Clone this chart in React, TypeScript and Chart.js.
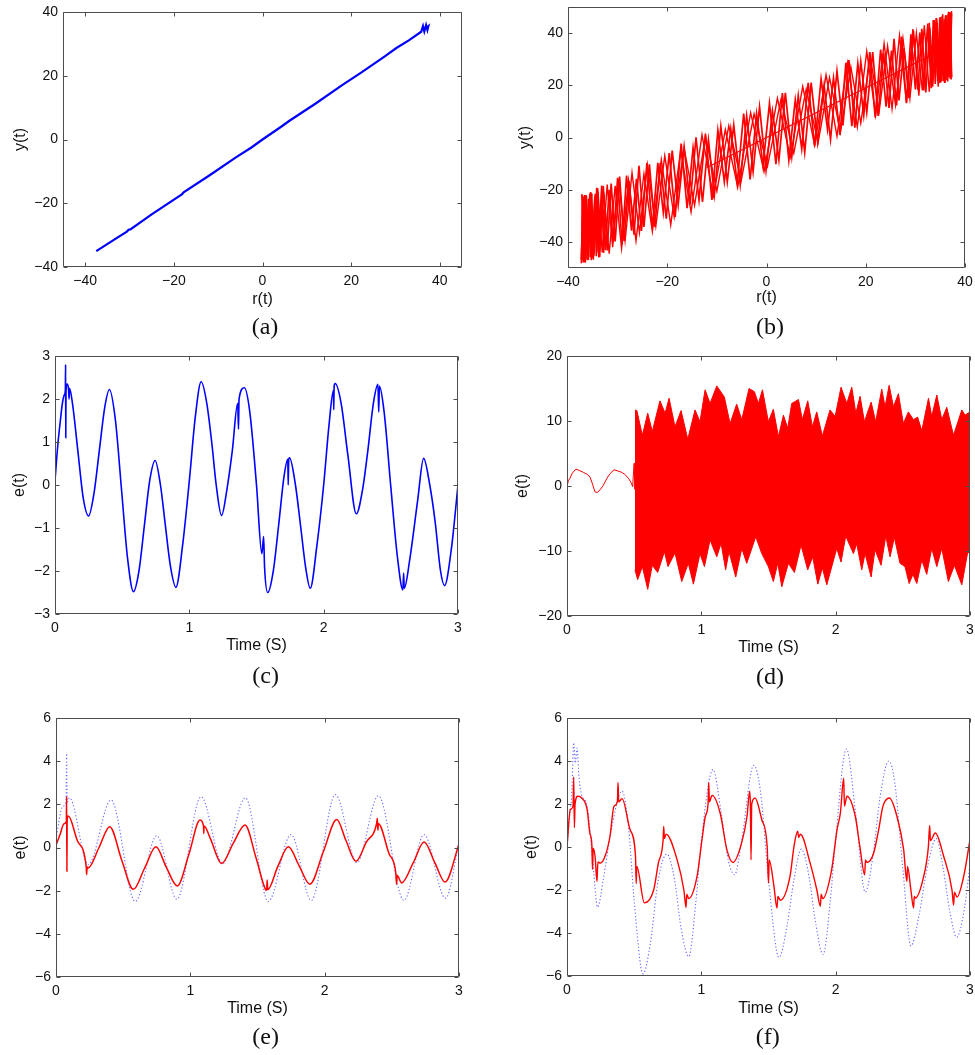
import React, { useEffect, useRef } from 'react';
import { Chart, registerables } from 'chart.js';
Chart.register(...registerables);

// ---------- tick labels ----------
const ticksRange40 = [-40, -20, 0, 20, 40];
const ticksTime = [0, 1, 2, 3];
const ticksC = [-3, -2, -1, 0, 1, 2, 3];
const ticksD = [-20, -10, 0, 10, 20];
const ticksEF = [-6, -4, -2, 0, 2, 4, 6];

// ---------- (a) r(t) vs y(t) ----------
const aR = [-37.5, -33, -30.6, -30.2, -29.8, -25, -18.2, -17.8, -12, -6, -2.5, 0, 4.2, 6, 12, 17.8, 22.5, 27.5, 30.2, 33, 35.8, 36.2, 36.5, 36.9, 37.2, 37.4, 36.8, 37.3];
const aY = [-35, -31.0, -28.9, -28.3, -28.2, -23.5, -17.2, -16.6, -11.3, -5.6, -2.5, 0, 4.0, 5.8, 11.3, 16.9, 21.2, 26.0, 28.7, 31.1, 33.8, 35.6, 33.9, 35.9, 34.4, 35.5, 34.8, 35.2];

// ---------- (b) r(t) vs y(t), zigzag passes ----------
const bR1 = [-37.2, -36.9, -36.5, -36.1, -35.6, -35.1, -34.5, -33.9, -33.2, -32.5, -31.7, -30.9, -30.0, -29.1, -28.2, -27.2, -26.2, -25.2, -24.1, -23.0, -21.9, -20.8, -19.6, -18.4, -17.2, -16.0, -14.8, -13.6, -12.3, -11.0, -9.8, -8.5, -7.2, -5.9, -4.6, -3.3, -2.0, -0.7, 0.6, 1.9, 3.2, 4.5, 5.8, 7.1, 8.4, 9.7, 11.0, 12.3, 13.5, 14.8, 16.0, 17.2, 18.4, 19.6, 20.8, 21.9, 23.0, 24.1, 25.2, 26.2, 27.2, 28.2, 29.1, 30.0, 30.9, 31.7, 32.5, 33.2, 33.9, 34.5, 35.1, 35.6, 36.1, 36.5, 36.9, 37.2];
const bY1 = [-21.7, -47.9, -22.0, -46.6, -21.6, -46.2, -21.6, -44.0, -18.4, -43.2, -20.0, -40.2, -15.4, -41.0, -14.6, -35.7, -15.8, -35.8, -9.8, -34.7, -9.7, -28.7, -6.0, -30.4, -2.3, -27.1, -4.0, -23.9, 1.4, -23.9, 2.7, -17.0, 3.2, -17.6, 9.2, -16.1, 9.1, -10.7, 13.1, -10.2, 17.0, -8.7, 14.5, -4.3, 20.9, -3.3, 22.4, 3.1, 22.8, 1.0, 28.6, 4.3, 28.4, 8.5, 32.7, 7.7, 33.7, 11.8, 33.3, 12.3, 38.7, 13.1, 39.5, 18.4, 40.2, 18.0, 43.7, 18.9, 44.0, 21.6, 46.2, 21.6, 46.6, 21.5, 47.9, 22.2];
const bR2 = [37.3, 37.0, 36.7, 36.3, 35.9, 35.4, 34.8, 34.2, 33.6, 32.9, 32.1, 31.3, 30.5, 29.6, 28.7, 27.7, 26.7, 25.7, 24.7, 23.6, 22.5, 21.4, 20.2, 19.0, 17.8, 16.6, 15.4, 14.2, 12.9, 11.6, 10.3, 9.0, 7.7, 6.4, 5.1, 3.8, 2.5, 1.2, -0.1, -1.4, -2.7, -4.0, -5.3, -6.6, -7.9, -9.2, -10.5, -11.7, -12.9, -14.2, -15.4, -16.6, -17.8, -19.0, -20.2, -21.4, -22.5, -23.6, -24.7, -25.7, -26.7, -27.7, -28.7, -29.6, -30.5, -31.3, -32.1, -32.9, -33.6, -34.2, -34.8, -35.4, -35.9, -36.3, -36.7, -37.0, -37.3];
const bY2 = [23.2, 48.0, 23.2, 46.8, 20.9, 43.5, 20.9, 45.8, 22.8, 42.1, 17.3, 41.6, 18.3, 41.0, 15.1, 34.2, 14.2, 37.8, 11.3, 32.3, 8.3, 32.7, 9.6, 29.0, 3.8, 29.7, 4.6, 25.4, -0.8, 20.0, -1.8, 21.0, -5.7, 16.0, -7.2, 17.1, -8.6, 10.1, -12.6, 11.7, -13.1, 8.2, -18.0, 4.8, -17.0, 4.3, -21.9, -1.1, -24.7, 0.1, -25.6, -3.7, -25.8, -5.0, -31.1, -9.7, -34.3, -10.3, -34.3, -10.8, -37.2, -16.7, -39.6, -15.0, -39.8, -17.6, -43.3, -18.6, -43.3, -19.3, -44.9, -21.0, -46.9, -22.3, -47.7, -22.5, -48.2];
const bR3 = [-37.3, -37.0, -36.5, -35.9, -35.3, -34.6, -33.8, -32.8, -31.7, -30.5, -29.2, -27.8, -26.3, -24.7, -23.0, -21.2, -19.3, -17.3, -15.2, -13.0, -10.7, -8.3, -5.8, -3.2, -0.5, 2.2, 4.8, 7.3, 9.7, 12.0, 14.2, 16.3, 18.3, 20.2, 22.0, 23.7, 25.3, 26.8, 28.2, 29.5, 30.7, 31.8, 32.8, 33.8, 34.6, 35.4, 36.0, 36.6, 37.0, 37.3];
const bY3 = [-47.0, -23.0, -48.0, -23.5, -47.0, -22.5, -46.0, -21.0, -44.5, -18.5, -42.5, -16.5, -39.5, -14.0, -36.0, -8.5, -33.5, -5.0, -28.5, 1.0, -22.5, 3.0, -19.0, 9.5, -13.0, 15.0, -7.5, 19.5, -3.0, 24.0, 0.5, 28.5, 4.0, 33.0, 8.5, 36.0, 11.0, 39.0, 13.5, 41.5, 16.0, 43.0, 17.5, 45.0, 19.5, 46.5, 21.0, 47.5, 22.5, 48.5];
const bR4 = [37.3, 36.9, 36.4, 35.8, 35.1, 34.4, 33.5, 32.5, 31.4, 30.2, 28.9, 27.5, 26.0, 24.4, 22.7, 20.9, 19.0, 17.0, 14.9, 12.7, 10.4, 8.0, 5.5, 2.9, 0.2, -2.5, -5.1, -7.6, -10.0, -12.3, -14.5, -16.6, -18.6, -20.5, -22.3, -24.0, -25.6, -27.1, -28.5, -29.8, -31.0, -32.1, -33.1, -34.0, -34.8, -35.5, -36.1, -36.7, -37.1];
const bY4 = [23.0, 46.0, 22.0, 45.5, 21.0, 44.0, 19.5, 42.5, 18.0, 40.0, 15.0, 38.0, 12.5, 35.0, 10.0, 31.0, 5.5, 27.0, 2.0, 23.0, -2.0, 18.5, -6.0, 14.5, -11.0, 9.0, -16.5, 4.5, -20.5, 0.5, -26.0, -4.0, -30.5, -7.0, -34.0, -10.5, -36.5, -13.5, -39.5, -16.0, -42.0, -18.0, -44.0, -19.5, -45.5, -21.0, -46.5, -22.0, -47.0];
const bR5 = [-37.3, -37.0, -36.7, -36.4, -36.1, -35.8, -35.5, -35.2, -34.9, -34.6, -34.3, -34.0, -33.6, -33.2, -32.8];
const bY5 = [-46.5, -23.0, -47.8, -22.0, -47.0, -23.5, -46.0, -21.5, -46.8, -22.8, -45.5, -20.8, -45.8, -21.0, -44.2];
const bR6 = [37.3, 37.0, 36.7, 36.4, 36.1, 35.8, 35.5, 35.2, 34.9, 34.6, 34.3, 34.0, 33.6, 33.2, 32.8];
const bY6 = [47.5, 23.0, 48.2, 22.0, 46.8, 23.5, 47.2, 21.5, 46.0, 22.8, 45.5, 20.5, 45.0, 21.0, 44.0];
const bMidR = [-12, -5, 0, 8, 16, 24, 30, 36.5];
const bMidY = [-11.5, -4.8, 0, 7.6, 15.2, 22.8, 28.5, 34.5];

// ---------- (c) e(t) ----------
const cT = [0, 0.02, 0.04, 0.055, 0.07, 0.077, 0.079, 0.08, 0.082, 0.09, 0.1, 0.105, 0.108, 0.13, 0.17, 0.21, 0.25, 0.29, 0.33, 0.37, 0.405, 0.45, 0.495, 0.54, 0.584, 0.625, 0.665, 0.705, 0.745, 0.785, 0.82, 0.86, 0.9, 0.95, 1.0, 1.045, 1.088, 1.13, 1.17, 1.2, 1.24, 1.28, 1.32, 1.36, 1.366, 1.37, 1.41, 1.45, 1.5, 1.54, 1.553, 1.56, 1.584, 1.625, 1.665, 1.705, 1.733, 1.736, 1.74, 1.746, 1.79, 1.83, 1.865, 1.9, 1.95, 2.0, 2.04, 2.073, 2.075, 2.078, 2.086, 2.13, 2.18, 2.243, 2.29, 2.33, 2.37, 2.404, 2.41, 2.415, 2.45, 2.5, 2.55, 2.59, 2.595, 2.6, 2.64, 2.7, 2.744, 2.79, 2.83, 2.87, 2.9, 2.95, 3.0];
const cE = [0.1, 0.9, 1.5, 1.9, 2.1, 2.2, 2.8, 1.1, 2.2, 2.35, 2.25, 2.0, 2.25, 1.9, 0.8, -0.3, -0.72, -0.2, 0.8, 1.8, 2.22, 1.5, -0.1, -1.7, -2.48, -2.0, -0.95, 0.1, 0.57, 0.0, -0.9, -1.9, -2.38, -1.4, 0.1, 1.6, 2.4, 1.9, 0.9, 0.0, -0.71, -0.1, 0.8, 1.9, 1.3, 2.0, 2.26, 1.7, 0.0, -1.6, -1.2, -1.9, -2.5, -2.0, -0.93, 0.2, 0.6, 0.0, 0.6, 0.63, 0.0, -1.0, -1.9, -2.4, -1.4, 0.0, 1.4, 2.2, 1.75, 2.3, 2.36, 1.9, 0.7, -0.67, -0.1, 0.83, 1.9, 2.34, 1.7, 2.3, 1.7, -0.05, -1.7, -2.44, -2.05, -2.4, -1.75, -0.35, 0.62, 0.0, -0.86, -2.0, -2.34, -1.5, 0.0];

// ---------- (d) e(t) ----------
const dEarlyT = [0, 0.01, 0.022, 0.04, 0.067, 0.09, 0.122, 0.15, 0.171, 0.19, 0.208, 0.225, 0.246, 0.27, 0.295, 0.32, 0.35, 0.38, 0.407, 0.43, 0.457, 0.475, 0.489, 0.495, 0.5, 0.506];
const dEarlyE = [-0.1, 0.8, 1.2, 2.0, 2.6, 2.4, 2.1, 1.8, 1.4, 0.3, -0.9, -1.0, -0.6, 0.1, 1.1, 1.9, 2.5, 2.3, 2.1, 1.8, 1.2, 0.6, -0.1, 2.0, 3.5, -0.5];
const dUpT = [0.506, 0.52, 0.561, 0.601, 0.635, 0.692, 0.73, 0.76, 0.804, 0.849, 0.899, 0.953, 0.99, 1.028, 1.065, 1.115, 1.171, 1.214, 1.263, 1.301, 1.355, 1.395, 1.425, 1.455, 1.499, 1.536, 1.574, 1.611, 1.643, 1.673, 1.723, 1.752, 1.792, 1.827, 1.859, 1.901, 1.958, 1.996, 2.04, 2.083, 2.12, 2.15, 2.182, 2.214, 2.264, 2.298, 2.343, 2.368, 2.398, 2.43, 2.467, 2.504, 2.541, 2.579, 2.61, 2.641, 2.691, 2.715, 2.753, 2.79, 2.827, 2.877, 2.939, 2.963, 3.0];
const dUp = [11.7, 11.6, 7.8, 11.2, 8.4, 13.1, 11.2, 13.5, 9.1, 11.6, 7.2, 11.7, 9.9, 14.8, 12.7, 15.4, 13.7, 9.6, 12.6, 10.2, 15.0, 14.5, 12.7, 14.8, 9.9, 11.8, 7.6, 10.9, 8.9, 12.7, 13.3, 10.2, 13.1, 9.1, 11.4, 7.7, 11.7, 10.7, 15.2, 12.7, 15.2, 11.2, 13.8, 9.9, 12.9, 9.9, 14.9, 12.2, 15.5, 12.2, 14.2, 9.6, 11.4, 10.2, 10.6, 8.5, 13.5, 10.7, 14.0, 10.2, 12.1, 7.8, 11.7, 10.9, 11.4];
const dLoT = [0.506, 0.526, 0.561, 0.601, 0.635, 0.675, 0.725, 0.752, 0.804, 0.854, 0.903, 0.941, 0.99, 1.023, 1.065, 1.115, 1.147, 1.181, 1.206, 1.256, 1.301, 1.338, 1.405, 1.45, 1.499, 1.536, 1.569, 1.599, 1.648, 1.693, 1.742, 1.792, 1.829, 1.867, 1.901, 1.934, 2.008, 2.04, 2.075, 2.132, 2.157, 2.194, 2.219, 2.264, 2.293, 2.338, 2.373, 2.405, 2.437, 2.479, 2.516, 2.547, 2.575, 2.604, 2.641, 2.678, 2.715, 2.753, 2.79, 2.839, 2.884, 2.939, 2.984, 3.0];
const dLo = [-12.9, -14.4, -12.4, -15.9, -12.2, -13.3, -10.1, -12.4, -10.3, -14.7, -11.9, -15.1, -10.4, -12.4, -8.3, -10.9, -8.8, -12.9, -10.1, -14.0, -9.6, -11.9, -7.8, -10.4, -12.4, -14.7, -11.9, -15.5, -11.9, -13.3, -9.1, -12.9, -10.9, -15.1, -12.6, -15.2, -9.6, -11.7, -7.7, -10.4, -8.9, -12.9, -10.4, -14.0, -9.8, -12.2, -7.7, -10.9, -7.9, -11.9, -12.4, -15.0, -13.6, -15.0, -11.4, -13.6, -9.6, -12.4, -9.6, -14.7, -12.2, -15.2, -10.1, -10.5];

// ---------- (e) e(t) ----------
const eBlueT = [0, 0.05, 0.075, 0.079, 0.083, 0.1, 0.24, 0.41, 0.59, 0.75, 0.9, 1.08, 1.24, 1.41, 1.58, 1.75, 1.9, 2.08, 2.24, 2.4, 2.59, 2.74, 2.9, 3.0];
const eBlueE = [0.4, 1.9, 2.2, 4.35, 2.1, 2.3, -0.8, 2.2, -2.5, 0.55, -2.4, 2.35, -0.75, 2.3, -2.5, 0.6, -2.45, 2.45, -0.7, 2.4, -2.45, 0.6, -2.35, 0.2];
const eRedT = [0, 0.03, 0.06, 0.077, 0.079, 0.081, 0.083, 0.092, 0.16, 0.225, 0.228, 0.232, 0.24, 0.32, 0.4, 0.49, 0.576, 0.66, 0.744, 0.82, 0.903, 0.99, 1.072, 1.098, 1.1, 1.102, 1.15, 1.233, 1.32, 1.407, 1.49, 1.56, 1.568, 1.572, 1.576, 1.65, 1.73, 1.81, 1.89, 1.99, 2.09, 2.16, 2.233, 2.31, 2.387, 2.392, 2.396, 2.4, 2.48, 2.53, 2.535, 2.54, 2.573, 2.66, 2.74, 2.82, 2.896, 3.0];
const eRedE = [0.1, 0.6, 1.1, 1.2, 2.36, -1.1, 1.3, 1.46, 0.3, -0.9, -1.25, -0.9, -0.95, 0.0, 0.96, -0.6, -1.94, -0.95, 0.03, -0.9, -1.78, -0.3, 1.27, 1.0, 0.65, 1.0, 0.4, -0.74, 0.2, 1.04, -0.5, -1.95, -1.98, -1.5, -1.95, -0.9, 0.03, -0.85, -1.7, -0.2, 1.3, 0.3, -0.64, 0.25, 1.12, 1.35, 0.8, 1.1, -0.3, -1.2, -1.7, -1.3, -1.64, -0.7, 0.25, -0.7, -1.6, 0.15];

// ---------- (f) e(t) ----------
const fBlueT = [0, 0.02, 0.035, 0.05, 0.062, 0.075, 0.09, 0.11, 0.15, 0.19, 0.228, 0.27, 0.33, 0.41, 0.46, 0.5, 0.566, 0.62, 0.68, 0.744, 0.8, 0.85, 0.906, 0.96, 1.0, 1.087, 1.15, 1.2, 1.248, 1.3, 1.39, 1.44, 1.5, 1.578, 1.64, 1.69, 1.744, 1.8, 1.85, 1.906, 1.96, 2.0, 2.08, 2.15, 2.22, 2.28, 2.33, 2.395, 2.44, 2.5, 2.56, 2.62, 2.68, 2.75, 2.8, 2.85, 2.9, 2.96, 3.0];
const fBlueE = [0.0, 1.5, 2.4, 4.85, 3.9, 4.6, 3.2, 2.4, 1.9, -0.5, -2.8, -1.5, 0.8, 2.6, 0.8, -2.5, -5.9, -4.5, -1.5, -0.33, -1.5, -3.8, -5.1, -2.5, 0.3, 3.6, 1.5, -0.6, -1.29, 0.3, 3.8, 2.6, -1.5, -5.14, -3.6, -1.5, -0.1, -1.3, -3.5, -5.0, -2.5, 0.4, 4.56, 1.5, -2.1, -0.3, 2.3, 4.0, 3.0, -1.0, -4.6, -3.2, -1.0, 0.39, -1.0, -3.0, -4.2, -2.8, -0.8];
const fRedT = [0, 0.025, 0.045, 0.05, 0.055, 0.06, 0.08, 0.11, 0.15, 0.17, 0.185, 0.19, 0.195, 0.21, 0.223, 0.23, 0.248, 0.285, 0.32, 0.35, 0.375, 0.38, 0.385, 0.41, 0.47, 0.51, 0.515, 0.52, 0.576, 0.645, 0.68, 0.715, 0.72, 0.725, 0.737, 0.82, 0.87, 0.886, 0.892, 0.906, 0.968, 1.005, 1.03, 1.05, 1.055, 1.06, 1.08, 1.14, 1.19, 1.236, 1.3, 1.34, 1.36, 1.365, 1.37, 1.375, 1.4, 1.45, 1.49, 1.5, 1.505, 1.54, 1.563, 1.57, 1.588, 1.66, 1.69, 1.717, 1.725, 1.737, 1.81, 1.86, 1.886, 1.892, 1.903, 1.97, 2.01, 2.035, 2.06, 2.065, 2.084, 2.146, 2.18, 2.216, 2.222, 2.233, 2.283, 2.32, 2.352, 2.4, 2.456, 2.506, 2.53, 2.535, 2.56, 2.58, 2.585, 2.593, 2.655, 2.69, 2.7, 2.705, 2.742, 2.804, 2.866, 2.878, 2.884, 2.903, 2.953, 3.0];
const fRedE = [0, 1.74, 1.9, 3.26, 0.9, 2.0, 2.36, 2.28, 1.74, 0.65, 0.1, -1.05, -0.05, -0.5, -1.6, -0.7, -0.75, -0.4, 0.5, 1.9, 2.1, 3.0, 2.1, 2.25, 0.8, -0.43, -1.7, -0.9, -2.6, -2.0, -0.75, 0.3, 0.96, 0.4, 0.6, -0.6, -2.0, -2.8, -2.2, -2.4, -1.37, 0.34, 1.43, 2.0, 3.0, 2.1, 2.4, 1.58, -0.12, -0.72, 0.19, 1.43, 2.6, 2.0, -0.6, 2.0, 2.28, 1.27, 0.03, -1.68, -0.6, -1.8, -2.84, -2.3, -2.48, -1.37, 0.03, 0.73, 0.45, 0.6, -0.75, -2.0, -2.76, -2.2, -2.4, -1.06, 0.8, 1.58, 3.2, 1.9, 2.36, 1.43, 0.03, -1.29, -0.6, -0.72, -0.28, 0.8, 1.9, 2.28, 1.43, -0.12, -1.6, -0.9, -2.0, -2.84, -2.3, -2.38, -1.37, 0.0, 1.0, 0.3, 0.65, -0.43, -2.0, -2.7, -2.1, -2.33, -1.37, 0.34];

// ---------- helpers ----------
const SANS = '"Liberation Sans", Arial, Helvetica, sans-serif';
const SERIF = '"Liberation Serif", "Times New Roman", serif';
const BLUE = '#0000ff';
const RED = '#ff0000';
const fmt = (v: number) => (v < 0 ? '\u2212' + Math.abs(v) : String(v));
const zip = (xs: number[], ys: number[]) => xs.map((x, i) => ({ x, y: ys[i] }));

const framePlugin = {
  id: 'matlabFrame',
  afterDatasetsDraw(chart: any) {
    const { ctx, chartArea } = chart;
    const l = Math.round(chartArea.left) + 0.5;
    const r = Math.round(chartArea.right) - 0.5;
    const t = Math.round(chartArea.top) + 0.5;
    const b = Math.round(chartArea.bottom) - 0.5;
    const len = 4;
    ctx.save();
    ctx.strokeStyle = '#4d4d4d';
    ctx.lineWidth = 1;
    ctx.beginPath();
    ctx.rect(l, t, r - l, b - t);
    const xs = chart.scales.x;
    const ys = chart.scales.y;
    xs.ticks.forEach((tk: any) => {
      const px = Math.round(xs.getPixelForValue(tk.value)) + 0.5;
      ctx.moveTo(px, b);
      ctx.lineTo(px, b - len);
      ctx.moveTo(px, t);
      ctx.lineTo(px, t + len);
    });
    ys.ticks.forEach((tk: any) => {
      const py = Math.round(ys.getPixelForValue(tk.value)) + 0.5;
      ctx.moveTo(l, py);
      ctx.lineTo(l + len, py);
      ctx.moveTo(r, py);
      ctx.lineTo(r - len, py);
    });
    ctx.stroke();
    ctx.restore();
  },
};

type Spec = {
  left: number; top: number; width: number; height: number;
  padTop: number; padRight: number; yW: number; xH: number;
  xMin: number; xMax: number; yMin: number; yMax: number;
  xTicks: number[]; yTicks: number[];
  xTitle: string; yTitle: string; xTitlePad: number; yTitlePad: number;
  datasets: any[];
};

const line = (xs: number[], ys: number[], color: string, width: number, extra: any = {}) => ({
  data: zip(xs, ys),
  borderColor: color,
  backgroundColor: color,
  borderWidth: width,
  pointRadius: 0,
  fill: false,
  tension: 0,
  ...extra,
});

const specs: Spec[] = [
  {
    left: 0, top: 0, width: 475, height: 315, padTop: 12, padRight: 13, yW: 63, xH: 48,
    xMin: -45, xMax: 45, yMin: -40, yMax: 40, xTicks: ticksRange40, yTicks: ticksRange40,
    xTitle: 'r(t)', yTitle: 'y(t)', xTitlePad: 6.2, yTitlePad: 10.5,
    datasets: [line(aR, aY, BLUE, 2.2)],
  },
  {
    left: 490, top: 0, width: 485, height: 315, padTop: 7, padRight: 10, yW: 78, xH: 47,
    xMin: -40, xMax: 40, yMin: -50, yMax: 50, xTicks: ticksRange40, yTicks: ticksRange40,
    xTitle: 'r(t)', yTitle: 'y(t)', xTitlePad: 7.8, yTitlePad: 25.5,
    datasets: [
      line(bR1, bY1, RED, 1.7), line(bR2, bY2, RED, 1.7), line(bR3, bY3, RED, 1.4),
      line(bR4, bY4, RED, 1.4), line(bR5, bY5, RED, 1.6), line(bR6, bY6, RED, 1.6),
      line(bMidR, bMidY, RED, 1.2),
    ],
  },
  {
    left: 0, top: 330, width: 475, height: 335, padTop: 26, padRight: 17, yW: 55, xH: 51,
    xMin: 0, xMax: 3, yMin: -3, yMax: 3, xTicks: ticksTime, yTicks: ticksC,
    xTitle: 'Time (S)', yTitle: 'e(t)', xTitlePad: 9.8, yTitlePad: 9.5,
    datasets: [line(cT, cE, BLUE, 1.6, { cubicInterpolationMode: 'monotone' })],
  },
  {
    left: 490, top: 330, width: 485, height: 335, padTop: 26, padRight: 5, yW: 77, xH: 49,
    xMin: 0, xMax: 3, yMin: -20, yMax: 20, xTicks: ticksTime, yTicks: ticksD,
    xTitle: 'Time (S)', yTitle: 'e(t)', xTitlePad: 8.2, yTitlePad: 22.8,
    datasets: [
      line(dEarlyT, dEarlyE, RED, 1),
      line(dUpT, dUp, RED, 1, { fill: '+1' }),
      line(dLoT, dLo, RED, 1),
    ],
  },
  {
    left: 0, top: 690, width: 475, height: 335, padTop: 28, padRight: 16, yW: 56, xH: 48,
    xMin: 0, xMax: 3, yMin: -6, yMax: 6, xTicks: ticksTime, yTicks: ticksEF,
    xTitle: 'Time (S)', yTitle: 'e(t)', xTitlePad: 7.2, yTitlePad: 11.2,
    datasets: [
      line(eRedT, eRedE, RED, 1.5, { cubicInterpolationMode: 'monotone', order: 0 }),
      line(eBlueT, eBlueE, 'rgba(50,50,255,0.75)', 1.1, { cubicInterpolationMode: 'monotone', borderDash: [1.2, 2.2], order: 1 }),
    ],
  },
  {
    left: 490, top: 690, width: 485, height: 335, padTop: 28, padRight: 5, yW: 77, xH: 49,
    xMin: 0, xMax: 3, yMin: -6, yMax: 6, xTicks: ticksTime, yTicks: ticksEF,
    xTitle: 'Time (S)', yTitle: 'e(t)', xTitlePad: 7.2, yTitlePad: 32.2,
    datasets: [
      line(fRedT, fRedE, RED, 1.4, { cubicInterpolationMode: 'monotone', order: 0 }),
      line(fBlueT, fBlueE, 'rgba(50,50,255,0.75)', 1.1, { cubicInterpolationMode: 'monotone', borderDash: [1.2, 2.2], order: 1 }),
    ],
  },
];

const panelLetters = [
  { text: '(a)', cx: 265, cy: 328.3 },
  { text: '(b)', cx: 770, cy: 328 },
  { text: '(c)', cx: 265.7, cy: 677.3 },
  { text: '(d)', cx: 770, cy: 678 },
  { text: '(e)', cx: 265.7, cy: 1038.3 },
  { text: '(f)', cx: 767.7, cy: 1038.3 },
];

function Panel({ spec }: { spec: Spec }) {
  const ref = useRef<HTMLCanvasElement>(null);
  useEffect(() => {
    if (!ref.current) return;
    const tickFont = { family: SANS, size: 14 };
    const titleFont = { family: SANS, size: 16 };
    const chart = new Chart(ref.current, {
      type: 'line',
      data: { datasets: spec.datasets },
      options: {
        animation: false,
        responsive: false,
        events: [],
        layout: { padding: { top: spec.padTop, right: spec.padRight, left: 0, bottom: 0 } },
        plugins: { legend: { display: false }, tooltip: { enabled: false } },
        scales: {
          x: {
            type: 'linear',
            position: 'bottom',
            min: spec.xMin,
            max: spec.xMax,
            grid: { display: false, drawTicks: false },
            border: { display: false },
            ticks: {
              autoSkip: false, maxRotation: 0, padding: 6, color: '#111', font: tickFont,
              callback: (v: any) => fmt(Number(v)),
            },
            title: {
              display: true, text: spec.xTitle, color: '#111', font: titleFont,
              padding: { top: 0, bottom: spec.xTitlePad },
            },
            afterBuildTicks: (s: any) => { s.ticks = spec.xTicks.map((v) => ({ value: v })); },
            afterFit: (s: any) => { s.height = spec.xH; s.paddingLeft = 0; s.paddingRight = 0; },
          },
          y: {
            type: 'linear',
            position: 'left',
            min: spec.yMin,
            max: spec.yMax,
            grid: { display: false, drawTicks: false },
            border: { display: false },
            ticks: {
              autoSkip: false, padding: 5, color: '#111', font: tickFont,
              callback: (v: any) => fmt(Number(v)),
            },
            title: {
              display: true, text: spec.yTitle, color: '#111', font: titleFont,
              padding: { top: spec.yTitlePad, bottom: 0 },
            },
            afterBuildTicks: (s: any) => { s.ticks = spec.yTicks.map((v) => ({ value: v })); },
            afterFit: (s: any) => { s.width = spec.yW; s.paddingTop = 0; s.paddingBottom = 0; },
          },
        },
      } as any,
      plugins: [framePlugin],
    });
    return () => chart.destroy();
  }, [spec]);
  return (
    <canvas
      ref={ref}
      width={spec.width}
      height={spec.height}
      style={{ position: 'absolute', left: spec.left, top: spec.top, width: spec.width, height: spec.height, display: 'block' }}
    />
  );
}

export default function App() {
  return (
    <div style={{ position: 'absolute', left: 0, top: 0, width: 975, height: 1055, background: '#ffffff', overflow: 'hidden' }}>
      {specs.map((s, i) => (
        <Panel key={i} spec={s} />
      ))}
      {panelLetters.map((p) => (
        <div
          key={p.text}
          style={{
            position: 'absolute', left: p.cx - 50, width: 100, top: p.cy - 14.3, textAlign: 'center',
            fontFamily: SERIF, fontSize: 24, lineHeight: '24px', color: '#111',
          }}
        >
          {p.text}
        </div>
      ))}
    </div>
  );
}
